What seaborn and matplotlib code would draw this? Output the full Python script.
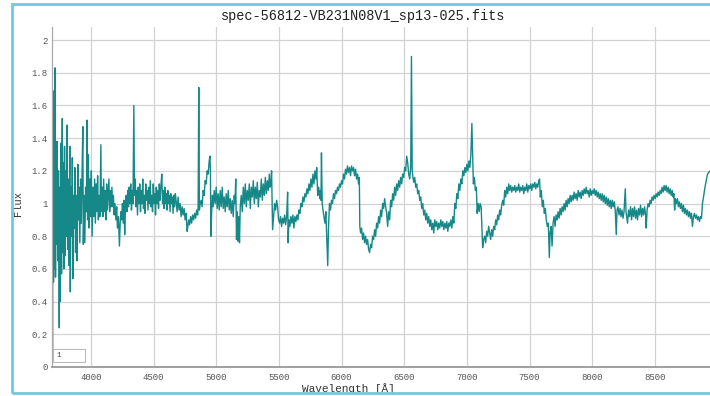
import matplotlib
matplotlib.use("Agg")
import matplotlib.pyplot as plt
import seaborn as sns
import pandas as pd
from matplotlib.patches import Rectangle

TITLE = "spec-56812-VB231N08V1_sp13-025.fits"
X_LABEL = "Wavelength [Å]"
Y_LABEL = "Flux"
LEGEND_LABEL = "1"
X_TICKS = [4000, 4500, 5000, 5500, 6000, 6500, 7000, 7500, 8000, 8500]
Y_TICKS = [0, 0.2, 0.4, 0.6, 0.8, 1.0, 1.2, 1.4, 1.6, 1.8, 2.0]
Y_TICK_LABELS = ["0", "0.2", "0.4", "0.6", "0.8", "1", "1.2", "1.4", "1.6", "1.8", "2"]

# (wavelength [A], flux), segment by segment
seg_blue = [
    (3690, 1.00), (3694, 0.10), (3698, 1.43), (3702, 0.52), (3706, 1.69), (3710, 0.60),
    (3714, 1.83), (3718, 0.55), (3722, 1.30), (3726, 0.75), (3730, 1.38), (3738, 0.65),
    (3742, 1.20), (3748, 0.24), (3752, 1.10), (3756, 0.40), (3762, 1.37), (3766, 0.57),
    (3772, 1.52), (3776, 0.70), (3780, 1.25), (3785, 0.60), (3790, 1.35), (3795, 0.68),
    (3800, 1.20), (3805, 0.80), (3810, 1.48), (3815, 0.72), (3820, 1.15), (3826, 0.62),
    (3832, 1.35), (3836, 0.46), (3842, 1.10), (3848, 0.80), (3852, 1.28), (3857, 0.54),
    (3862, 1.05), (3868, 0.85), (3872, 1.22), (3878, 0.70), (3884, 1.05), (3890, 0.65),
    (3896, 1.24), (3900, 0.90), (3906, 1.10), (3912, 0.76), (3918, 1.15), (3924, 0.88),
    (3930, 1.20), (3936, 1.47), (3940, 0.75), (3946, 1.05), (3952, 0.76), (3958, 1.10),
    (3964, 0.95), (3970, 1.51), (3974, 0.90), (3980, 1.30), (3986, 0.85), (3992, 1.15),
    (3998, 0.92),
]
seg_4000 = [
    (4004, 1.20), (4010, 0.80), (4018, 1.10), (4024, 0.92), (4030, 1.15), (4036, 0.88),
    (4042, 1.12), (4048, 0.95), (4054, 1.17), (4060, 0.90), (4066, 1.05), (4072, 0.92),
    (4080, 1.36), (4084, 0.95), (4090, 1.10), (4096, 0.92), (4102, 1.15), (4108, 0.95),
    (4114, 1.08), (4120, 0.90), (4126, 1.12), (4132, 0.96), (4138, 1.06), (4144, 1.15),
    (4150, 0.95), (4156, 1.08), (4162, 0.98), (4168, 1.10), (4174, 0.98), (4180, 1.05),
    (4186, 0.93), (4192, 1.00), (4200, 0.90), (4206, 0.98), (4212, 0.85), (4220, 0.92),
    (4228, 0.74), (4234, 0.88), (4240, 0.95), (4246, 0.90), (4252, 1.00), (4258, 0.88),
    (4264, 1.02), (4270, 0.81), (4276, 0.98), (4282, 1.05), (4288, 0.95), (4294, 1.08),
    (4300, 0.98), (4306, 1.10), (4312, 1.00), (4318, 1.12), (4324, 0.96), (4330, 1.08),
    (4336, 1.00), (4343, 1.60), (4348, 1.05), (4354, 1.15), (4360, 0.98), (4366, 1.08),
    (4372, 0.93), (4378, 1.10), (4384, 1.00), (4390, 1.12), (4396, 0.95), (4402, 1.08),
    (4408, 1.00), (4414, 1.15), (4420, 0.97), (4426, 1.05), (4432, 0.94), (4438, 1.12),
    (4444, 1.02), (4450, 1.08), (4456, 0.96), (4462, 1.10), (4468, 1.00), (4474, 1.14),
    (4480, 0.98), (4486, 1.05), (4492, 0.95), (4498, 1.12), (4504, 1.00), (4510, 1.06),
    (4516, 0.93), (4522, 1.10), (4528, 1.00), (4534, 1.08), (4540, 0.97), (4546, 1.12),
    (4552, 1.02), (4558, 1.10), (4566, 1.18), (4572, 1.00), (4578, 1.08), (4584, 0.97),
    (4590, 1.10), (4596, 1.00), (4602, 1.06), (4608, 0.96), (4614, 1.08), (4620, 1.00),
    (4626, 1.05), (4632, 0.95), (4638, 1.06), (4644, 1.00), (4650, 1.04), (4656, 0.94),
    (4662, 1.05), (4668, 0.98), (4674, 1.06),
]
seg_hbeta = [
    (4680, 1.02), (4688, 0.95), (4696, 1.04), (4704, 0.96), (4712, 1.00), (4720, 0.92),
    (4728, 0.98), (4736, 0.93), (4744, 0.97), (4752, 0.90), (4760, 0.94), (4768, 0.83),
    (4774, 0.86), (4780, 0.90), (4788, 0.87), (4796, 0.92), (4804, 0.88), (4812, 0.93),
    (4820, 0.90), (4828, 0.94), (4836, 0.91), (4844, 0.96), (4852, 0.93), (4856, 0.98),
    (4861, 1.71), (4866, 0.96), (4872, 1.00), (4880, 1.02), (4888, 0.98), (4896, 1.08),
    (4904, 1.05), (4912, 1.14), (4920, 1.12), (4928, 1.20), (4936, 1.18), (4944, 1.26),
    (4950, 1.29), (4954, 1.20), (4958, 0.80), (4964, 0.95), (4970, 1.05), (4976, 0.98),
    (4984, 1.08), (4992, 1.00), (5000, 1.10), (5008, 0.97), (5016, 1.06), (5024, 0.96),
    (5032, 1.08), (5040, 0.98), (5048, 1.10), (5056, 0.97), (5064, 1.04), (5072, 0.95),
    (5080, 1.06), (5088, 0.98), (5096, 1.08), (5104, 0.96), (5112, 1.03), (5120, 0.94),
    (5128, 1.02), (5136, 0.92), (5144, 1.05), (5150, 1.00), (5156, 1.15), (5162, 0.78),
    (5168, 0.95), (5174, 0.77), (5180, 0.92), (5186, 0.76), (5192, 0.98), (5200, 1.05),
    (5208, 0.95), (5216, 1.10), (5224, 1.00), (5232, 1.12), (5240, 0.98), (5248, 1.08),
    (5256, 1.02), (5264, 1.12), (5272, 0.97), (5280, 1.10), (5288, 1.04), (5296, 1.14),
    (5304, 1.00), (5312, 1.10), (5320, 1.03), (5328, 1.13), (5336, 0.98), (5344, 1.08),
    (5352, 1.04), (5360, 1.15), (5368, 1.02), (5376, 1.12), (5384, 1.05), (5392, 1.16),
    (5400, 1.06), (5408, 1.14), (5416, 1.08), (5424, 1.18), (5430, 1.10), (5436, 1.12),
    (5442, 1.20), (5450, 0.84),
]
seg_nad = [
    (5458, 0.92), (5466, 1.00), (5474, 0.96), (5482, 1.02), (5490, 0.98), (5498, 0.90),
    (5506, 0.88), (5514, 0.92), (5522, 0.86), (5530, 0.91), (5538, 0.88), (5546, 0.93),
    (5554, 0.87), (5562, 0.92), (5570, 1.07), (5574, 0.76), (5580, 0.90), (5588, 0.86),
    (5596, 0.92), (5604, 0.88), (5612, 0.93), (5620, 0.85), (5628, 0.92), (5636, 0.89),
    (5644, 0.93), (5652, 0.90), (5660, 0.96), (5668, 0.94), (5676, 1.00), (5684, 0.98),
    (5692, 1.04), (5700, 1.01), (5708, 1.06), (5716, 1.04), (5724, 1.09), (5732, 1.06),
    (5740, 1.12), (5748, 1.08), (5756, 1.15), (5764, 1.10), (5772, 1.18), (5780, 1.12),
    (5788, 1.20), (5796, 1.15), (5802, 1.22), (5810, 1.05), (5818, 1.10), (5826, 1.03),
    (5832, 1.08), (5836, 1.02), (5840, 1.31), (5846, 1.00), (5852, 0.96), (5860, 0.92),
    (5868, 0.88), (5875, 0.95), (5882, 0.80), (5890, 0.62), (5896, 0.85), (5904, 1.00),
    (5912, 0.96), (5920, 1.02), (5928, 1.00), (5936, 1.06), (5944, 1.03), (5952, 1.08),
    (5960, 1.06), (5968, 1.10), (5976, 1.08), (5984, 1.12), (5992, 1.10), (6000, 1.14),
    (6008, 1.12), (6016, 1.18), (6024, 1.15), (6032, 1.21), (6040, 1.18), (6048, 1.23),
    (6056, 1.19), (6064, 1.22), (6072, 1.17), (6080, 1.23), (6088, 1.20), (6096, 1.22),
    (6104, 1.17), (6112, 1.21), (6120, 1.15), (6128, 1.18), (6136, 1.12), (6142, 1.16),
    (6146, 0.86), (6152, 0.82), (6160, 0.85), (6168, 0.78), (6176, 0.82), (6184, 0.76),
    (6192, 0.80), (6200, 0.75), (6208, 0.78), (6216, 0.72), (6224, 0.70), (6232, 0.75),
    (6240, 0.73), (6248, 0.80), (6256, 0.78), (6264, 0.84), (6272, 0.80), (6280, 0.88),
    (6288, 0.85), (6296, 0.92),
]
seg_halpha = [
    (6304, 0.88), (6312, 0.96), (6320, 0.92), (6328, 1.00), (6336, 0.97), (6344, 1.03),
    (6352, 0.98), (6360, 0.94), (6368, 0.86), (6376, 0.95), (6384, 0.90), (6392, 1.02),
    (6400, 0.98), (6408, 1.06), (6416, 1.02), (6424, 1.10), (6432, 1.05), (6440, 1.12),
    (6448, 1.08), (6456, 1.14), (6464, 1.10), (6472, 1.16), (6480, 1.12), (6488, 1.18),
    (6496, 1.16), (6504, 1.22), (6512, 1.20), (6520, 1.29), (6528, 1.25), (6536, 1.18),
    (6544, 1.15), (6552, 1.22), (6558, 1.90), (6564, 1.20), (6570, 1.16), (6576, 1.13),
    (6584, 1.16), (6592, 1.10), (6600, 1.12), (6608, 1.06), (6616, 1.08), (6624, 1.02),
    (6632, 1.04), (6640, 0.97), (6648, 1.00), (6656, 0.93), (6664, 0.96), (6672, 0.90),
    (6680, 0.94), (6688, 0.88), (6696, 0.92), (6704, 0.86), (6712, 0.90), (6720, 0.84),
    (6728, 0.88), (6736, 0.82), (6744, 0.90), (6752, 0.86), (6760, 0.89), (6768, 0.84),
    (6776, 0.88), (6784, 0.85), (6792, 0.90), (6800, 0.86), (6808, 0.89), (6816, 0.84),
    (6824, 0.88), (6832, 0.85), (6840, 0.89), (6848, 0.83), (6856, 0.88), (6864, 0.86),
    (6872, 0.90), (6880, 0.85), (6888, 0.92), (6896, 0.88), (6904, 1.00), (6912, 0.97),
    (6920, 1.06), (6928, 1.03), (6936, 1.12), (6944, 1.08), (6952, 1.15), (6960, 1.12),
    (6968, 1.20), (6976, 1.17), (6984, 1.22), (6992, 1.19), (7000, 1.24), (7008, 1.20),
    (7016, 1.26), (7024, 1.22), (7032, 1.30), (7040, 1.49), (7046, 1.30), (7052, 1.12),
    (7060, 1.16), (7068, 1.08), (7076, 1.10), (7082, 0.94), (7090, 1.00), (7098, 0.95),
    (7106, 1.00), (7114, 0.98), (7120, 0.85), (7126, 0.73), (7134, 0.78), (7142, 0.80),
    (7150, 0.76), (7158, 0.83), (7166, 0.80), (7174, 0.86), (7182, 0.82),
]
seg_red = [
    (7190, 0.78), (7198, 0.84), (7206, 0.80), (7214, 0.86), (7222, 0.84), (7230, 0.90),
    (7238, 0.87), (7246, 0.93), (7254, 0.90), (7262, 0.96), (7270, 0.93), (7278, 0.99),
    (7286, 1.02), (7294, 0.99), (7302, 1.08), (7310, 1.04), (7318, 1.10), (7326, 1.06),
    (7334, 1.12), (7342, 1.08), (7350, 1.11), (7358, 1.07), (7366, 1.10), (7374, 1.08),
    (7382, 1.11), (7390, 1.07), (7398, 1.10), (7406, 1.08), (7414, 1.12), (7422, 1.07),
    (7430, 1.10), (7438, 1.08), (7446, 1.11), (7454, 1.06), (7462, 1.10), (7470, 1.08),
    (7478, 1.12), (7486, 1.07), (7494, 1.11), (7502, 1.09), (7510, 1.12), (7518, 1.08),
    (7526, 1.12), (7534, 1.10), (7542, 1.13), (7550, 1.09), (7558, 1.12), (7566, 1.10),
    (7574, 1.14), (7580, 1.15), (7586, 1.04), (7594, 1.08), (7602, 0.98), (7610, 1.02),
    (7618, 0.94), (7626, 0.97), (7634, 0.90), (7642, 0.86), (7650, 0.88), (7658, 0.67),
    (7664, 0.82), (7672, 0.86), (7680, 0.74), (7688, 0.88), (7696, 0.92), (7704, 0.86),
    (7712, 0.93), (7720, 0.90), (7728, 0.95), (7736, 0.91), (7744, 0.97), (7752, 0.93),
    (7760, 0.98), (7768, 0.95), (7776, 1.00), (7784, 0.96), (7792, 1.02), (7800, 0.98),
    (7808, 1.03), (7816, 1.00), (7824, 1.05), (7832, 1.01), (7840, 1.05), (7848, 1.02),
    (7856, 1.07), (7864, 1.03), (7872, 1.06), (7880, 1.02), (7888, 1.08), (7896, 1.04),
    (7904, 1.07), (7912, 1.03), (7920, 1.08), (7928, 1.05), (7936, 1.09), (7944, 1.06),
    (7952, 1.10), (7960, 1.06), (7968, 1.08), (7976, 1.04), (7984, 1.09), (7992, 1.05),
    (8000, 1.08),
]
seg_nir = [
    (8008, 1.06), (8016, 1.09), (8024, 1.05), (8032, 1.08), (8040, 1.04), (8048, 1.07),
    (8056, 1.03), (8064, 1.06), (8072, 1.02), (8080, 1.06), (8088, 1.01), (8096, 1.05),
    (8104, 1.00), (8112, 1.04), (8120, 0.99), (8128, 1.03), (8136, 0.98), (8144, 1.02),
    (8152, 0.97), (8160, 1.02), (8168, 0.98), (8176, 1.01), (8184, 0.96), (8192, 0.81),
    (8198, 0.96), (8206, 0.98), (8214, 0.93), (8222, 0.97), (8230, 0.92), (8238, 0.96),
    (8246, 0.91), (8254, 0.95), (8264, 1.09), (8270, 0.95), (8282, 0.88), (8290, 0.96),
    (8298, 0.92), (8306, 0.98), (8314, 0.90), (8322, 0.97), (8330, 0.92), (8338, 0.98),
    (8346, 0.91), (8354, 0.96), (8362, 0.90), (8370, 0.97), (8378, 0.93), (8386, 0.99),
    (8394, 0.92), (8402, 0.97), (8410, 0.93), (8418, 0.98), (8426, 0.93), (8431, 0.85),
    (8438, 0.96), (8446, 1.00), (8454, 0.98), (8462, 1.02), (8470, 1.00), (8478, 1.04),
    (8486, 1.02), (8494, 1.05), (8502, 1.03), (8510, 1.06), (8518, 1.04), (8526, 1.07),
    (8534, 1.05), (8542, 1.08), (8550, 1.06), (8558, 1.10), (8566, 1.07), (8574, 1.11),
    (8582, 1.08), (8590, 1.11), (8598, 1.07), (8606, 1.10), (8614, 1.06), (8622, 1.09),
    (8630, 1.05), (8638, 1.08), (8646, 1.04), (8652, 1.06), (8658, 0.96), (8664, 1.03),
    (8672, 1.00), (8680, 1.03), (8688, 0.98), (8696, 1.01), (8704, 0.97), (8712, 1.00),
    (8720, 0.95), (8728, 0.99), (8736, 0.94), (8744, 0.97), (8752, 0.93), (8760, 0.96),
    (8768, 0.92), (8776, 0.95), (8784, 0.91), (8792, 0.94), (8800, 0.86), (8808, 0.92),
    (8816, 0.94), (8824, 0.91), (8832, 0.93), (8840, 0.90), (8848, 0.92), (8856, 0.89),
    (8864, 0.92), (8872, 0.91), (8880, 1.00), (8890, 1.05), (8900, 1.10), (8910, 1.14),
    (8920, 1.18), (8930, 1.19), (8940, 1.20),
]

segments = [seg_blue, seg_4000, seg_hbeta, seg_nad, seg_halpha, seg_red, seg_nir]
df = pd.DataFrame([p for s in segments for p in s], columns=["wavelength", "flux"])

sns.set_theme(style="whitegrid")
plt.rcParams["font.family"] = ["Liberation Mono", "DejaVu Sans"]

W, H = 710, 396
fig = plt.figure(figsize=(W / 100, H / 100), dpi=100)
fig.patch.set_facecolor("white")
ax = fig.add_axes([52 / W, (H - 367) / H, (710 - 52) / W, (367 - 27) / H])
ax.set_facecolor("white")

sns.lineplot(data=df, x="wavelength", y="flux", ax=ax, color="#178888",
             linewidth=1.0, estimator=None, sort=False)

ax.set_xlim(3690, 8940)
ax.set_ylim(0, 2.08)
ax.set_xticks(X_TICKS)
ax.set_xticklabels([str(t) for t in X_TICKS])
ax.set_yticks(Y_TICKS)
ax.set_yticklabels(Y_TICK_LABELS)
ax.grid(True, color="#d2d2d2", linewidth=0.9)
ax.tick_params(axis="both", length=0, labelsize=6.5, colors="#555555")
ax.tick_params(axis="x", pad=4)
ax.tick_params(axis="y", pad=3)
for side in ("top", "right"):
    ax.spines[side].set_visible(False)
ax.spines["left"].set_color("#aaaaaa")
ax.spines["left"].set_linewidth(0.9)
ax.spines["bottom"].set_color("#999999")
ax.spines["bottom"].set_linewidth(1.3)

ax.set_xlabel(X_LABEL, fontsize=8, color="#333333")
ax.xaxis.set_label_coords((348 - 52) / 658, (367 - 388.5) / 340)
ax.xaxis.label.set_va("center")
ax.set_ylabel(Y_LABEL, fontsize=7.5, color="#333333")
ax.yaxis.set_label_coords((18 - 52) / 658, 0.48)
ax.yaxis.label.set_va("center")

# small legend-like box in the lower-left corner
ax.add_patch(Rectangle((1 / 658, 5 / 340), 32 / 658, 13 / 340, transform=ax.transAxes,
                       facecolor="white", edgecolor="#bbbbbb", linewidth=0.8, zorder=5))
ax.text(4 / 658, 11.5 / 340, LEGEND_LABEL, transform=ax.transAxes, fontsize=5.5,
        color="#444444", va="center", ha="left", zorder=6)

fig.text(363 / W, 1 - 16 / H, TITLE, ha="center", va="center", fontsize=9.8, color="#222222")

# light cyan frame around the panel
fig.add_artist(Rectangle((12 / W, 3 / H), 1.2, (389) / H, transform=fig.transFigure,
                         facecolor="none", edgecolor="#6cccd9", linewidth=2.0))

fig.savefig("out.png", dpi=100)
